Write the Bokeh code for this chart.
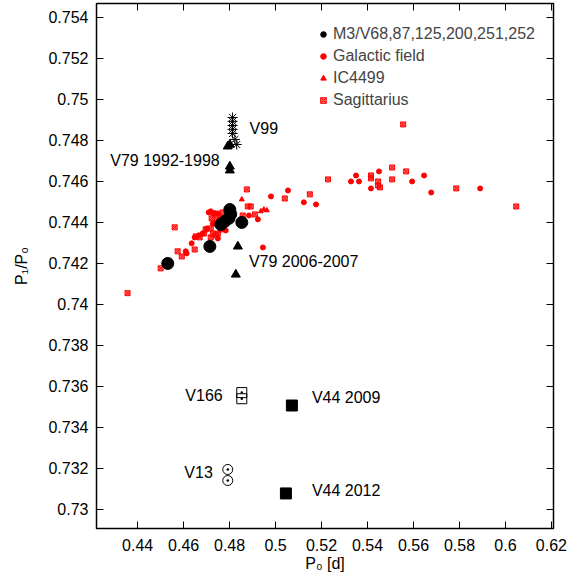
from bokeh.plotting import figure
from bokeh.models import Range1d, LinearAxis, Legend, LegendItem, FixedTicker
from bokeh.core.properties import value
from bokeh.embed import file_html
from bokeh.resources import INLINE

# ---- data ----
m3_p0 = [0.4531, 0.4714, 0.4801, 0.4853, 0.4762, 0.4779, 0.4797, 0.4805]
m3_ratio = [0.7420, 0.74283, 0.74463, 0.7440, 0.7439, 0.74405, 0.7442, 0.7444]

gal_p0 = [0.4980, 0.5054, 0.5123, 0.5176, 0.5328, 0.5350, 0.5363, 0.5415, 0.5450, 0.5594,
          0.5646, 0.5677, 0.5890, 0.4945, 0.4718, 0.4736, 0.4749, 0.4884, 0.4923, 0.4727,
          0.4701, 0.4783, 0.4666, 0.4648, 0.4749, 0.4635, 0.4609, 0.4613, 0.4683, 0.4709]
gal_ratio = [0.74527, 0.74556, 0.74498, 0.74488, 0.7460, 0.74629, 0.7460, 0.74566, 0.74649, 0.7460,
             0.74629, 0.74546, 0.74566, 0.74278, 0.74454, 0.74444, 0.74444, 0.74434, 0.74415, 0.74395,
             0.74371, 0.74361, 0.74337, 0.74327, 0.74322, 0.74298, 0.74259, 0.74249, 0.74346, 0.74449]

ic_p0 = [0.4853, 0.4936, 0.4949, 0.4962]
ic_ratio = [0.74512, 0.74454, 0.74463, 0.74459]

sgr_p0 = [0.5555, 0.5040, 0.5149, 0.5228, 0.5415, 0.5415, 0.5446, 0.5446, 0.5454, 0.5507,
          0.5507, 0.5568, 0.5786, 0.6047, 0.4910, 0.4875, 0.4879, 0.4857, 0.4722, 0.4744,
          0.4757, 0.4561, 0.4718, 0.4762, 0.4749, 0.4727, 0.4688, 0.4670, 0.4718, 0.4740,
          0.4648, 0.4574, 0.4592, 0.4500, 0.4356, 0.4731, 0.4770, 0.4892, 0.4731, 0.4696, 0.4653]
sgr_ratio = [0.74878, 0.74517, 0.74537, 0.74610, 0.74629, 0.74615, 0.7460, 0.74580, 0.74571, 0.74668,
             0.74610, 0.74649, 0.74566, 0.74478, 0.74439, 0.74561, 0.74478, 0.74434, 0.74420, 0.74415,
             0.74424, 0.74376, 0.74371, 0.74366, 0.74346, 0.74346, 0.74346, 0.74327, 0.74327, 0.74337,
             0.74268, 0.74259, 0.74234, 0.74176, 0.74055, 0.74444, 0.74449, 0.74478, 0.74395, 0.74366, 0.74332]

v79a_p0 = [0.4792, 0.4801, 0.4801, 0.4801]
v79a_ratio = [0.74771, 0.7478, 0.74673, 0.74654]
v79b_p0 = [0.4836, 0.4827]
v79b_ratio = [0.74283, 0.74146]
v99_p0 = [0.4813, 0.4813, 0.4813, 0.4813, 0.4813, 0.4823, 0.4831]
v99_ratio = [0.74912, 0.74893, 0.74873, 0.74854, 0.74834, 0.74805, 0.7478]
v166_p0 = [0.4853, 0.4853]
v166_ratio = [0.7357, 0.7354]
v13_p0 = [0.4792, 0.4792]
v13_ratio = [0.73195, 0.73141]
v44_p0 = [0.5071, 0.5045]
v44_ratio = [0.73507, 0.73078]

lab_text = ["V99", "V79 1992-1998", "V79 2006-2007", "V166", "V44 2009", "V13", "V44 2012"]
lab_x = [0.4887, 0.4757, 0.4884, 0.4770, 0.5158, 0.4727, 0.5158]
lab_y = [0.74859, 0.74702, 0.7421, 0.73556, 0.73546, 0.73180, 0.73093]
lab_align = ["left", "right", "left", "right", "left", "right", "left"]

x_ticks = [0.44, 0.46, 0.48, 0.5, 0.52, 0.54, 0.56, 0.58, 0.6, 0.62]
y_ticks = [0.73, 0.732, 0.734, 0.736, 0.738, 0.74, 0.742, 0.744, 0.746, 0.748, 0.75, 0.752, 0.754]

FONT = "Liberation Sans"
FS = "16px"

p = figure(width=581, height=578, output_backend="svg", toolbar_location=None,
           x_range=Range1d(0.4221, 0.6209), y_range=Range1d(0.72907, 0.75468),
           min_border_left=96, min_border_right=28, min_border_top=3, min_border_bottom=50,
           x_axis_label="P\u2080 [d]", y_axis_label="P\u2081/P\u2080")
p.grid.visible = False
p.outline_line_color = "black"
p.outline_line_width = 1.5
p.background_fill_color = "white"
p.border_fill_color = "white"

for ax, ticks in ((p.xaxis[0], x_ticks), (p.yaxis[0], y_ticks)):
    ax.ticker = FixedTicker(ticks=ticks)
    ax.major_tick_in = 7
    ax.major_tick_out = 0
    ax.minor_tick_line_color = None
    ax.axis_line_color = None
    ax.major_tick_line_color = "black"
    ax.major_label_text_font = FONT
    ax.major_label_text_font_size = FS
    ax.major_label_text_color = "black"
    ax.axis_label_text_font = FONT
    ax.axis_label_text_font_size = FS
    ax.axis_label_text_font_style = "normal"
    ax.axis_label_text_color = "black"
p.xaxis[0].major_label_standoff = 10
p.xaxis[0].axis_label_standoff = 1
p.yaxis[0].major_label_standoff = 8
p.yaxis[0].axis_label_standoff = 15

for loc, ticks in (("above", x_ticks), ("right", y_ticks)):
    ax = LinearAxis(ticker=FixedTicker(ticks=ticks), major_tick_in=7, major_tick_out=0,
                    minor_tick_line_color=None, axis_line_color=None,
                    major_label_text_font_size="0px", major_label_standoff=0)
    ax.major_label_text_color = None
    p.add_layout(ax, loc)

# red comparison samples
r_gal = p.scatter(gal_p0, gal_ratio, marker="circle", size=5, color="red")
r_ic = p.scatter(ic_p0, ic_ratio, marker="triangle", size=5, color="red")
r_sgr = p.scatter(sgr_p0, sgr_ratio, marker="square_x", size=5, line_color="red",
                  fill_color="red", fill_alpha=0.55, line_width=1)

# M3 stars
r_m3 = p.scatter(m3_p0, m3_ratio, marker="circle", size=12, color="black")
p.scatter(v79a_p0, v79a_ratio, marker="triangle", size=9, color="black")
p.scatter(v79b_p0, v79b_ratio, marker="triangle", size=9, color="black")
p.scatter(v99_p0, v99_ratio, marker="asterisk", size=10, line_color="black", line_width=1)
p.scatter(v166_p0, v166_ratio, marker="square_dot", size=10, line_color="black",
          fill_color=None, line_width=1)
p.scatter(v13_p0, v13_ratio, marker="circle_dot", size=10, line_color="black",
          fill_color=None, line_width=1)
p.scatter(v44_p0, v44_ratio, marker="square", size=11, color="black")

src = dict(x=lab_x, y=lab_y, t=lab_text, a=lab_align)
p.text(x="x", y="y", text="t", text_align="a", source=src, text_baseline="middle",
       text_font=value(FONT), text_font_size=FS, text_color="black")

legend = Legend(items=[
    LegendItem(label="M3/V68,87,125,200,251,252", renderers=[r_m3]),
    LegendItem(label="Galactic field", renderers=[r_gal]),
    LegendItem(label="IC4499", renderers=[r_ic]),
    LegendItem(label="Sagittarius", renderers=[r_sgr]),
], location=(220, 418))
legend.border_line_color = None
legend.background_fill_alpha = 0
legend.label_text_font = FONT
legend.label_text_font_size = FS
legend.label_height = 20
legend.glyph_height = 20
legend.glyph_width = 14
legend.label_standoff = 3
legend.spacing = 2
legend.padding = 0
legend.margin = 0
p.add_layout(legend)

open("out.html", "w").write(file_html(p, INLINE))
